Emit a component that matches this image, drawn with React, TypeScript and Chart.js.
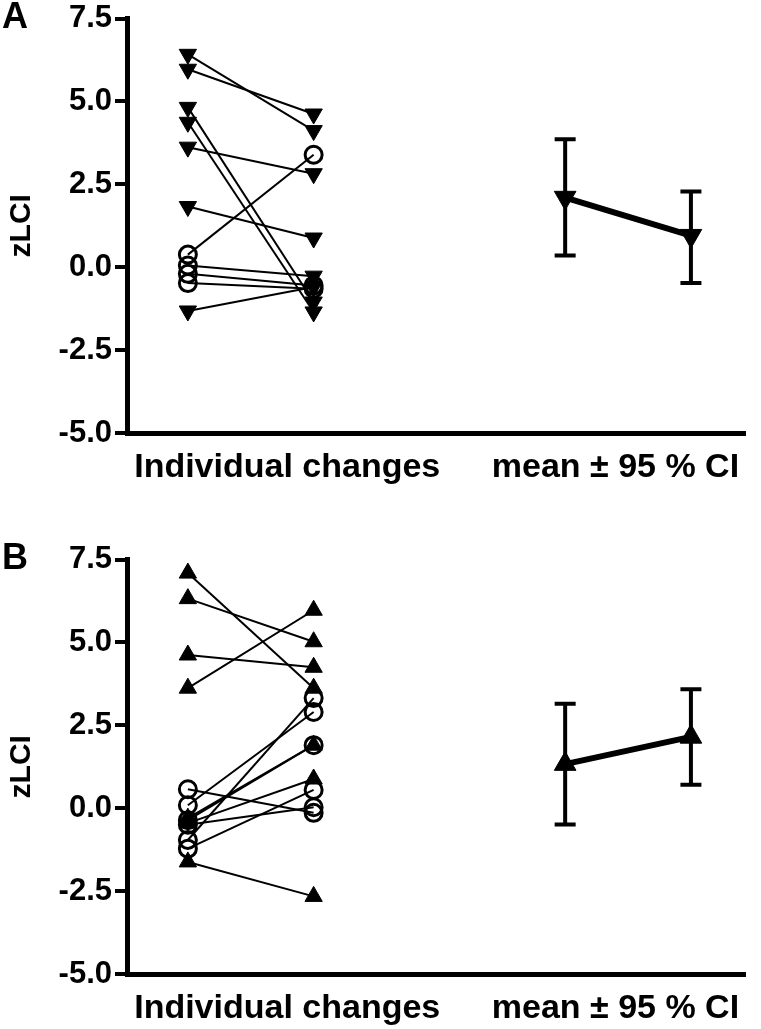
import React, { useEffect, useRef } from "react";
import { Chart, registerables } from "chart.js";

Chart.register(...registerables);

// ---------- data ----------
const xLabels = ["Individual changes", "mean \u00b1 95 % CI"];
const xLabelPos = [1.79, 4.4];
const indivX = [1, 2];
const meanX = [4, 5];
const yMin = -5;
const yMax = 7.5;
const yStep = 2.5;
const yTitle = "zLCI";
const panelLabels = ["A", "B"];

// Panel A individual changes (pre -> post), marker per point
const aPre = [6.42, 5.97, 4.82, 4.37, 3.62, 1.83, -1.32, 0.38, 0.05, -0.2, -0.48];
const aPost = [4.12, 4.62, -1.05, -1.35, 2.82, 0.88, -0.6, 3.39, -0.27, -0.55, -0.65];
const aPreMark = ["t", "t", "t", "t", "t", "t", "t", "c", "c", "c", "c"];
const aPostMark = ["t", "t", "t", "t", "t", "t", "t", "c", "t", "c", "c"];
const aMean = [2.1, 0.95];
const aLow = [0.35, -0.48];
const aHigh = [3.86, 2.28];

// Panel B individual changes
const bPre = [7.09, 6.32, 4.62, 3.62, 0.57, 0.09, -0.3, -0.36, -0.45, -0.5, -0.96, -1.22, -1.62];
const bPost = [3.62, 5.02, 4.25, 5.97, -0.14, 2.9, 1.9, 1.9, 0.88, 0.03, 3.32, 0.55, -2.66];
const bPreMark = ["t", "t", "t", "t", "c", "c", "t", "c", "t", "c", "c", "c", "t"];
const bPostMark = ["t", "t", "t", "t", "c", "c", "t", "c", "t", "c", "c", "c", "t"];
const bMean = [1.33, 2.15];
const bLow = [-0.49, 0.71];
const bHigh = [3.15, 3.59];

const FONT = "'Liberation Sans', Arial, sans-serif";

type PanelProps = {
  label: string;
  pre: number[];
  post: number[];
  preMark: string[];
  postMark: string[];
  mean: number[];
  low: number[];
  high: number[];
  down: boolean;
};

const panelLabelPlugin = {
  id: "panelLabel",
  afterDraw(chart: any, _args: any, opts: any) {
    const ctx = chart.ctx;
    ctx.save();
    ctx.font = `bold 36px ${FONT}`;
    ctx.fillStyle = "#000";
    ctx.textBaseline = "alphabetic";
    ctx.textAlign = "left";
    ctx.fillText(opts.text, 2, 28);
    ctx.restore();
  },
};

function Panel(props: PanelProps) {
  const ref = useRef<HTMLCanvasElement | null>(null);
  useEffect(() => {
    if (!ref.current) return;
    const rot = props.down ? 180 : 0;
    const datasets: any[] = [];
    // individual lines
    props.pre.forEach((p, i) => {
      const marks = [props.preMark[i], props.postMark[i]];
      datasets.push({
        data: [
          { x: indivX[0], y: p },
          { x: indivX[1], y: props.post[i] },
        ],
        borderColor: "#000",
        borderWidth: 2,
        pointStyle: marks.map((m) => (m === "t" ? "triangle" : "circle")),
        pointRadius: marks.map((m) => (m === "t" ? 10 : 8.5)),
        pointRotation: marks.map((m) => (m === "t" ? rot : 0)),
        pointBackgroundColor: marks.map((m) => (m === "t" ? "#000" : "rgba(0,0,0,0)")),
        pointBorderColor: "#000",
        pointBorderWidth: marks.map((m) => (m === "t" ? 1 : 3)),
      });
    });
    // mean line
    datasets.push({
      data: meanX.map((x, i) => ({ x, y: props.mean[i] })),
      borderColor: "#000",
      borderWidth: 6,
      pointStyle: "triangle",
      pointRadius: 12.5,
      pointRotation: rot,
      pointBackgroundColor: "#000",
      pointBorderColor: "#000",
      pointBorderWidth: 1,
    });
    // error bars
    meanX.forEach((x, i) => {
      datasets.push({
        data: [
          { x, y: props.low[i] },
          { x, y: props.high[i] },
        ],
        borderColor: "#000",
        borderWidth: 4,
        pointStyle: "line",
        pointRadius: 10.5,
        pointBorderColor: "#000",
        pointBorderWidth: 4,
      });
    });

    const chart = new Chart(ref.current, {
      type: "line",
      data: { datasets },
      plugins: [panelLabelPlugin],
      options: {
        animation: false,
        responsive: false,
        layout: { padding: { top: 15, right: 16, left: 0, bottom: 0 } },
        plugins: {
          legend: { display: false },
          tooltip: { enabled: false },
          panelLabel: { text: props.label },
        } as any,
        scales: {
          x: {
            type: "linear",
            min: 0.516,
            max: 5.43,
            afterBuildTicks: (s: any) => {
              s.ticks = xLabelPos.map((v) => ({ value: v }));
            },
            afterFit: (s: any) => {
              s.height = 55;
            },
            grid: { display: true, drawOnChartArea: false, drawTicks: false },
            border: { display: true, width: 5, color: "#000" },
            ticks: {
              autoSkip: false,
              maxRotation: 0,
              padding: 18,
              color: "#000",
              font: { family: FONT, size: 34, weight: "bold", lineHeight: 1 },
              callback: (_v: any, i: number) => xLabels[i] ?? "",
            },
          },
          y: {
            type: "linear",
            min: yMin,
            max: yMax,
            afterFit: (s: any) => {
              s.width = 127;
            },
            grid: {
              display: true,
              drawOnChartArea: false,
              drawTicks: true,
              tickLength: 12,
              lineWidth: 4,
              color: "#000",
            },
            border: { display: true, width: 5, color: "#000" },
            ticks: {
              stepSize: yStep,
              padding: 3,
              color: "#000",
              font: { family: FONT, size: 31, weight: "bold", lineHeight: 1 },
              callback: (v: any) => Number(v).toFixed(1),
            },
            title: {
              display: true,
              text: yTitle,
              color: "#000",
              padding: { top: 4, bottom: 0 },
              font: { family: FONT, size: 30, weight: "bold", lineHeight: 1.2 },
            },
          },
        },
      } as any,
    });
    return () => chart.destroy();
  }, []);
  return <canvas ref={ref} width={761} height={488} style={{ display: "block", width: 761, height: 488 }} />;
}

export default function App() {
  return (
    <div style={{ position: "absolute", left: 0, top: 0, width: 761, height: 1029, background: "#fff", overflow: "hidden" }}>
      <div style={{ position: "absolute", left: 0, top: 0 }}>
        <Panel label={panelLabels[0]} pre={aPre} post={aPost} preMark={aPreMark} postMark={aPostMark} mean={aMean} low={aLow} high={aHigh} down={true} />
      </div>
      <div style={{ position: "absolute", left: 0, top: 541 }}>
        <Panel label={panelLabels[1]} pre={bPre} post={bPost} preMark={bPreMark} postMark={bPostMark} mean={bMean} low={bLow} high={bHigh} down={false} />
      </div>
    </div>
  );
}
